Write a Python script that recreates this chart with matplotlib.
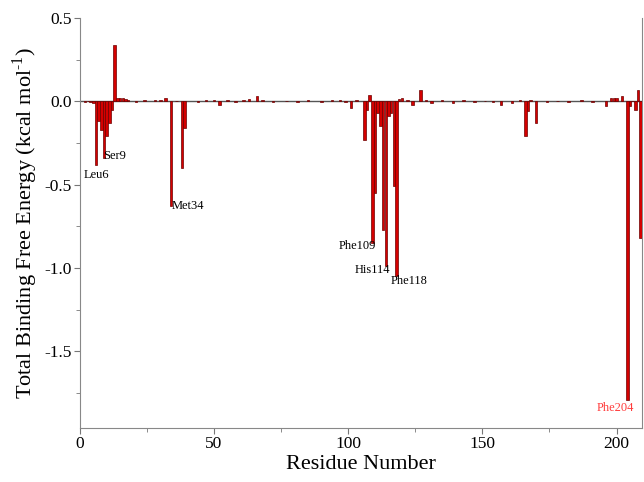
import matplotlib.pyplot as plt
import numpy as np

plt.rcParams['font.family'] = ['Liberation Serif', 'DejaVu Serif']
plt.rcParams['mathtext.fontset'] = 'custom'
plt.rcParams['mathtext.rm'] = 'Liberation Serif'
plt.rcParams['axes.unicode_minus'] = False

# residues with a noticeable contribution (kcal/mol), all others ~0
residues = [2, 3, 4, 5, 6, 7, 8, 9, 10, 11, 12, 13, 14, 15, 16, 17, 18,
            21, 24, 28, 30, 32, 34, 36, 38, 39, 44, 47, 50, 52, 55, 58,
            61, 63, 66, 68, 72, 77, 81, 85, 90, 94, 97, 99, 101, 103,
            106, 107, 108, 109, 110, 111, 112, 113, 114, 115, 116, 117,
            118, 119, 120, 122, 124, 127, 129, 131, 135, 139, 143, 147,
            151, 154, 157, 161, 164, 166, 167, 168, 170, 174, 178, 182,
            187, 191, 196, 198, 199, 200, 202, 204, 205, 206, 207, 208, 209]
energies = [-0.005, 0.004, -0.006, -0.01, -0.38, -0.12, -0.17, -0.34, -0.21,
            -0.13, -0.05, 0.34, 0.02, 0.02, 0.018, 0.012, 0.006,
            -0.006, 0.005, 0.01, 0.006, 0.02, -0.63, 0.004, -0.40, -0.16,
            -0.006, 0.006, 0.01, -0.02, 0.006, -0.006, 0.005, 0.012, 0.03,
            0.006, -0.005, 0.004, -0.005, 0.006, -0.004, 0.006, 0.008,
            -0.006, -0.04, 0.006, -0.23, -0.05, 0.035, -0.85, -0.55, -0.07,
            -0.15, -0.77, -0.99, -0.09, -0.07, -0.51, -1.05, 0.012, 0.02,
            0.01, -0.02, 0.065, 0.008, -0.01, 0.006, -0.008, 0.005, -0.006,
            0.004, -0.005, -0.025, -0.01, 0.01, -0.21, -0.06, 0.006, -0.13,
            -0.005, 0.004, -0.006, 0.01, -0.004, -0.03, 0.02, 0.02, 0.02,
            0.03, -1.79, -0.03, 0.004, -0.05, 0.07, -0.82]

labels = ['Leu6', 'Ser9', 'Met34', 'Phe109', 'His114', 'Phe118', 'Phe204']
label_x = [1.5, 8.6, 34.3, 96.5, 102.3, 116.0, 192.5]
label_y = [-0.44, -0.33, -0.63, -0.87, -1.01, -1.08, -1.84]
label_colors = ['black'] * 6 + ['#ff3b3b']

fig = plt.figure(figsize=(6.44, 4.82), dpi=100)
ax = fig.add_axes([0.124, 0.112, 0.873, 0.851])

ax.bar(residues, energies, width=0.95, color='#d40000',
       edgecolor='#6b0000', linewidth=0.5, zorder=3)
ax.axhline(0, color='#555555', linewidth=1.0, zorder=2)

for txt, x, y, c in zip(labels, label_x, label_y, label_colors):
    ax.text(x, y, txt, fontsize=9, color=c, ha='left', va='center', zorder=4)

ax.set_xlim(0, 209.5)
ax.set_ylim(-1.96, 0.5)
ax.set_xticks([0, 50, 100, 150, 200])
ax.set_xticks(np.arange(25, 210, 50), minor=True)
ax.set_yticks([-1.5, -1.0, -0.5, 0.0, 0.5])
ax.set_yticks([-1.75, -1.25, -0.75, -0.25, 0.25], minor=True)
ax.yaxis.set_major_formatter(plt.FormatStrFormatter('%.1f'))
ax.tick_params(labelsize=12.5, color='#777777', length=4, pad=2)
ax.tick_params(which='minor', color='#777777', length=3)

for s in ['left', 'bottom', 'right']:
    ax.spines[s].set_color('#888888')
ax.spines['top'].set_visible(False)

ax.set_xlabel('Residue Number', fontsize=16, labelpad=2)
ax.set_ylabel('Total Binding Free Energy (kcal mol$^{\\text{-1}}$)',
              fontsize=16, labelpad=3)

fig.savefig('out.png', dpi=100)
